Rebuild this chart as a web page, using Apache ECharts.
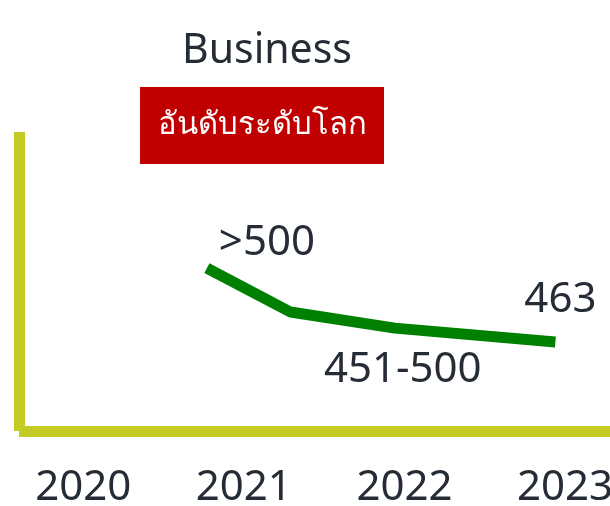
<!DOCTYPE html>
<html>
<head>
<meta charset="utf-8">
<script src="https://cdn.jsdelivr.net/npm/echarts@6/dist/echarts.min.js"></script>
<style>
  html, body { margin: 0; padding: 0; background: #fff; }
  #main { width: 610px; height: 506px; }
</style>
</head>
<body>
<div id="main"></div>
<script>
// ข้อมูลกราฟ
var years = [2020, 2021, 2022, 2023];
var pointYears = [2020.77, 2021.29, 2021.94, 2022.94];   // x positions of line vertices
var rankLevel = [54.5, 39.8, 34.4, 29.8];                 // relative height
var rankLabels = ['>500', '', '451-500', '463'];
var labelOffsets = [[60, -25], [0, 0], [8, 42], [5, -42]];

var textColor = '#262c36';
var axisColor = '#c4cc24';

var myChart = echarts.init(document.getElementById('main'));

var lineData = pointYears.map(function (x, i) {
    return {
        value: [x, rankLevel[i]],
        label: { formatter: rankLabels[i], offset: labelOffsets[i] }
    };
});

myChart.setOption({
    animation: false,
    title: [{
        text: 'Business',
        left: 177,
        top: 26,
        textStyle: { fontFamily: 'Noto Sans', fontSize: 41, fontWeight: 'normal', color: textColor }
    }],
    graphic: [{
        type: 'group',
        left: 140,
        top: 87,
        children: [{
            type: 'rect',
            shape: { x: 0, y: 0, width: 244, height: 77 },
            style: { fill: '#c00000' }
        }, {
            type: 'text',
            x: 122,
            y: 38,
            style: {
                text: 'อันดับระดับโลก',
                fill: '#fff',
                font: '31px "Noto Sans", sans-serif',
                textAlign: 'center',
                textVerticalAlign: 'middle'
            }
        }]
    }],
    grid: { left: 19, right: 0, top: 132, bottom: 75, outerBoundsMode: 'none' },
    xAxis: {
        type: 'value',
        min: 2019.6,
        max: 2023.28,
        splitLine: { show: false },
        axisTick: { show: false },
        axisLine: { lineStyle: { color: axisColor, width: 11, cap: 'butt' } },
        axisLabel: {
            customValues: years,
            margin: 36,
            fontFamily: 'Noto Sans',
            fontSize: 42,
            color: textColor,
            formatter: function (v) { return String(Math.round(v)); }
        }
    },
    yAxis: {
        type: 'value',
        min: 0,
        max: 100,
        axisLabel: { show: false },
        axisTick: { show: false },
        splitLine: { show: false },
        axisLine: { show: true, lineStyle: { color: axisColor, width: 11, cap: 'butt' } }
    },
    series: [{
        type: 'line',
        data: lineData,
        symbol: 'circle',
        symbolSize: 1,
        itemStyle: { color: 'rgba(0,0,0,0)' },
        lineStyle: { color: '#008000', width: 11, cap: 'butt', join: 'bevel' },
        label: {
            show: true,
            position: 'inside',
            fontFamily: 'Noto Sans',
            fontSize: 42,
            color: textColor
        }
    }]
});
</script>
</body>
</html>
